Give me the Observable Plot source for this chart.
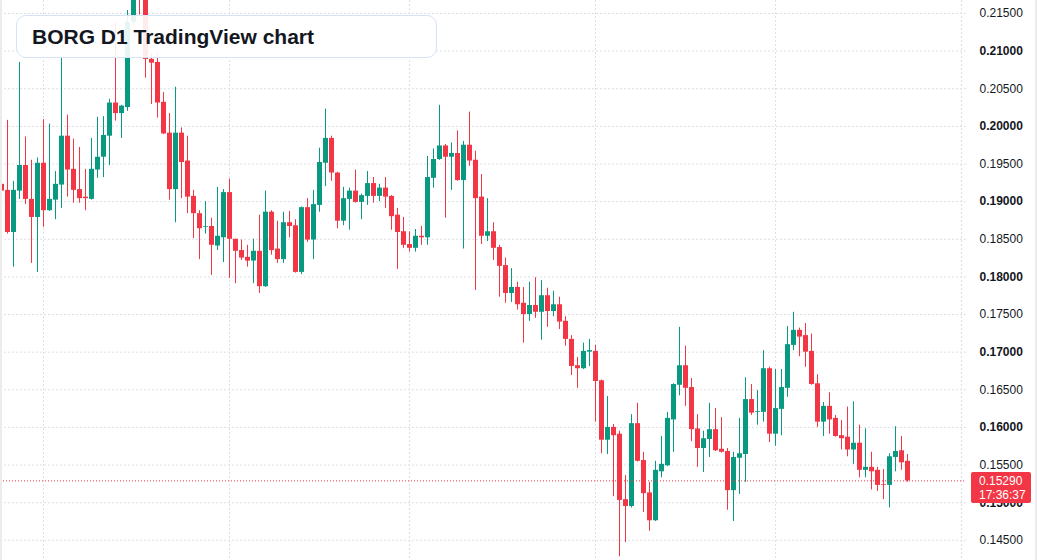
<!DOCTYPE html>
<html><head><meta charset="utf-8">
<script src="https://cdn.jsdelivr.net/npm/d3@7"></script>
<script src="https://cdn.jsdelivr.net/npm/@observablehq/plot@0.6"></script>
<style>
body{margin:0;background:#fff;}
#wrap{position:relative;width:1037px;height:560px;overflow:hidden;font-family:"Liberation Sans",Arial,sans-serif;}
#title{position:absolute;left:16px;top:15px;width:421px;height:43px;box-sizing:border-box;border:1px solid #d6e3f7;border-radius:10px;background:rgba(255,255,255,0.9);font-weight:bold;font-size:21px;color:#131722;padding-left:15px;line-height:42px;white-space:nowrap;}
.edge{position:absolute;top:0;width:2px;height:560px;background:#ececec;}
</style></head>
<body><div id="wrap"><div id="chart"></div><div id="title">BORG D1 TradingView chart</div><div class="edge" style="left:0"></div><div class="edge" style="right:0"></div></div>
<script>
const startDate = "2024-07-25";
const opens = [.1923,.1915,.1859,.1914,.1948,.1903,.1879,.1951,.1888,.1902,.1922,.1987,.1943,.1916,.1906,.1903,.1942,.1959,.1987,.2031,.2017,.2025,.2138,.2190,.2175,.2089,.2085,.2032,.1991,.1916,.1991,.1954,.1907,.1884,.1866,.1867,.1841,.1852,.1912,.1850,.1835,.1826,.1821,.1834,.1787,.1886,.1837,.1823,.1872,.1868,.1806,.1892,.1849,.1895,.1951,.1984,.1938,.1874,.1903,.1914,.1899,.1907,.1924,.1907,.1918,.1907,.1882,.1860,.1843,.1838,.1854,.1852,.1931,.1956,.1974,.1959,.1964,.1928,.1975,.1955,.1906,.1854,.1860,.1839,.1815,.1778,.1786,.1765,.1750,.1762,.1753,.1775,.1754,.1763,.1741,.1717,.1682,.1678,.1700,.1701,.1662,.1583,.1600,.1591,.1504,.1495,.1605,.1556,.1513,.1476,.1541,.1549,.1610,.1656,.1682,.1653,.1598,.1572,.1584,.1597,.1571,.1568,.1516,.1559,.1564,.1637,.1620,.1620,.1678,.1591,.1624,.1652,.1709,.1729,.1722,.1701,.1658,.1607,.1628,.1612,.1589,.1587,.1570,.1579,.1543,.1547,.1543,.1524,.1523,.1560,.1569,.1555];
const highs = [.1928,.2008,.1927,.2085,.1986,.1955,.1958,.2009,.2003,.1940,.2092,.2015,.1983,.1972,.1943,.1984,.2012,.2013,.2036,.2138,.2028,.2154,.2185,.2195,.2180,.2096,.2097,.2045,.2017,.2052,.1998,.1987,.1915,.1888,.1900,.1878,.1919,.1916,.1930,.1850,.1849,.1842,.1850,.1882,.1914,.1888,.1874,.1886,.1887,.1876,.1893,.1904,.1915,.1971,.2023,.1987,.1939,.1919,.1918,.1942,.1910,.1940,.1932,.1923,.1932,.1908,.1891,.1879,.1860,.1863,.1867,.1960,.1970,.2028,.1976,.1978,.1994,.1980,.2019,.1967,.1936,.1904,.1872,.1842,.1825,.1811,.1793,.1786,.1793,.1799,.1795,.1785,.1781,.1773,.1747,.1722,.1693,.1712,.1717,.1709,.1663,.1641,.1604,.1595,.1536,.1617,.1632,.1567,.1527,.1555,.1588,.1620,.1658,.1733,.1708,.1665,.1617,.1595,.1632,.1625,.1613,.1572,.1567,.1612,.1666,.1657,.1649,.1702,.1680,.1677,.1677,.1734,.1753,.1732,.1738,.1724,.1670,.1633,.1646,.1616,.1609,.1627,.1634,.1603,.1598,.1567,.1547,.1544,.1565,.1601,.1588,.1564];
const lows = [.1908,.1857,.1813,.1903,.1896,.1818,.1806,.1866,.1887,.1876,.1891,.1906,.1898,.1898,.1888,.1902,.1931,.1932,.1948,.2007,.1984,.2020,.2135,.2148,.2064,.2029,.2011,.1989,.1902,.1872,.1904,.1884,.1851,.1823,.1857,.1802,.1835,.1819,.1798,.1791,.1822,.1813,.1791,.1778,.1786,.1829,.1818,.1818,.1852,.1805,.1803,.1846,.1823,.1886,.1920,.1927,.1864,.1868,.1862,.1898,.1876,.1895,.1898,.1900,.1891,.1862,.1810,.1838,.1833,.1833,.1842,.1842,.1918,.1955,.1878,.1915,.1927,.1837,.1947,.1782,.1843,.1847,.1822,.1773,.1765,.1766,.1756,.1712,.1741,.1745,.1716,.1733,.1747,.1730,.1708,.1669,.1652,.1677,.1681,.1607,.1565,.1564,.1508,.1428,.1447,.1493,.1554,.1487,.1462,.1475,.1533,.1548,.1567,.1642,.1628,.1581,.1547,.1540,.1560,.1568,.1566,.1490,.1475,.1511,.1527,.1616,.1603,.1607,.1580,.1575,.1589,.1640,.1702,.1694,.1680,.1656,.1600,.1588,.1591,.1587,.1570,.1561,.1551,.1533,.1533,.1517,.1515,.1504,.1493,.1541,.1543,.1527];
const closes = [.1914,.1859,.1915,.1948,.1903,.1879,.1951,.1888,.1903,.1923,.1987,.1942,.1915,.1904,.1904,.1943,.1959,.1988,.2031,.2017,.2027,.2138,.2174,.2178,.2089,.2084,.2031,.1990,.1916,.1991,.1952,.1906,.1884,.1864,.1867,.1842,.1854,.1912,.1850,.1834,.1825,.1821,.1834,.1787,.1886,.1835,.1823,.1872,.1867,.1806,.1892,.1849,.1896,.1952,.1984,.1938,.1874,.1904,.1914,.1899,.1908,.1924,.1907,.1918,.1906,.1880,.1859,.1842,.1838,.1854,.1852,.1932,.1956,.1974,.1959,.1964,.1928,.1975,.1954,.1904,.1854,.1860,.1838,.1814,.1778,.1786,.1763,.1750,.1762,.1753,.1775,.1754,.1763,.1740,.1717,.1681,.1678,.1701,.1702,.1661,.1583,.1600,.1589,.1503,.1495,.1605,.1555,.1512,.1476,.1543,.1551,.1612,.1657,.1682,.1652,.1597,.1572,.1585,.1597,.1569,.1567,.1516,.1560,.1565,.1637,.1619,.1621,.1678,.1591,.1625,.1653,.1710,.1729,.1720,.1700,.1657,.1607,.1628,.1610,.1588,.1585,.1570,.1579,.1543,.1547,.1541,.1523,.1523,.1561,.1568,.1553,.1529];
const monthStarts = ["2024-08-01","2024-09-01","2024-10-01","2024-11-01","2024-12-01","2025-01-01"];
const regularTicks = [0.215,0.205,0.195,0.185,0.175,0.165,0.155,0.145];
const boldTicks = [0.21,0.20,0.19,0.18,0.17,0.16,0.15];
const countdown = "17:36:37";
const lastClose = closes[closes.length - 1];

const up = "#089981", down = "#f23645";
const day = 864e5;
const t0 = new Date(startDate + "T00:00:00Z");
const data = opens.map((o, i) => ({date: new Date(+t0 + i * day), open: o, high: highs[i], low: lows[i], close: closes[i]}));
const colorOf = d => d.close >= d.open ? up : down;
const gridColor = "#dcdfe5";

const plot = Plot.plot({
  width: 1037, height: 560,
  marginLeft: 0, marginRight: 71, marginTop: 0, marginBottom: 0,
  style: {fontFamily: "'Liberation Sans', Arial, sans-serif", background: "transparent", overflow: "visible"},
  x: {type: "utc", domain: [new Date(+t0 - day / 6), new Date(+t0 + (161 - 1 / 6) * day)], axis: null},
  y: {domain: [0.142318, 0.216727], axis: null},
  marks: [
    Plot.gridY(regularTicks.concat(boldTicks), {stroke: gridColor, strokeOpacity: 1, strokeDasharray: "2,2"}),
    Plot.gridX(monthStarts.map(s => new Date(s + "T00:00:00Z")), {stroke: gridColor, strokeOpacity: 1, strokeDasharray: "2,2"}),
    Plot.ruleX(data, {x: "date", y1: "low", y2: "high", stroke: colorOf, strokeWidth: 1, clip: true}),
    Plot.ruleX(data, {x: "date", y1: "open", y2: "close", stroke: colorOf, strokeWidth: 5, clip: true}),
    Plot.ruleY([lastClose], {stroke: down, strokeDasharray: "1,2"}),
    Plot.axisY(regularTicks, {anchor: "right", tickSize: 0, tickPadding: 13, tickFormat: d3.format(".5f"), fontSize: 12, fill: "#131722", label: null}),
    Plot.axisY(boldTicks, {anchor: "right", tickSize: 0, tickPadding: 13, tickFormat: d3.format(".5f"), fontSize: 12, fill: "#131722", fontWeight: "bold", label: null})
  ]
});

const svg = d3.select(plot);
const yc = plot.scale("y").apply(lastClose);
const badge = svg.append("g").attr("text-anchor", "start").attr("font-size", 12);
badge.append("rect").attr("x", 971).attr("y", yc - 8.3).attr("width", 60).attr("height", 31).attr("rx", 2).attr("fill", down);
badge.append("text").attr("x", 979).attr("y", yc + 4.5).attr("fill", "#fff").text(d3.format(".5f")(lastClose));
badge.append("text").attr("x", 979).attr("y", yc + 18.5).attr("fill", "#fff").text(countdown);

document.getElementById("chart").appendChild(plot);
</script>
</body></html>
